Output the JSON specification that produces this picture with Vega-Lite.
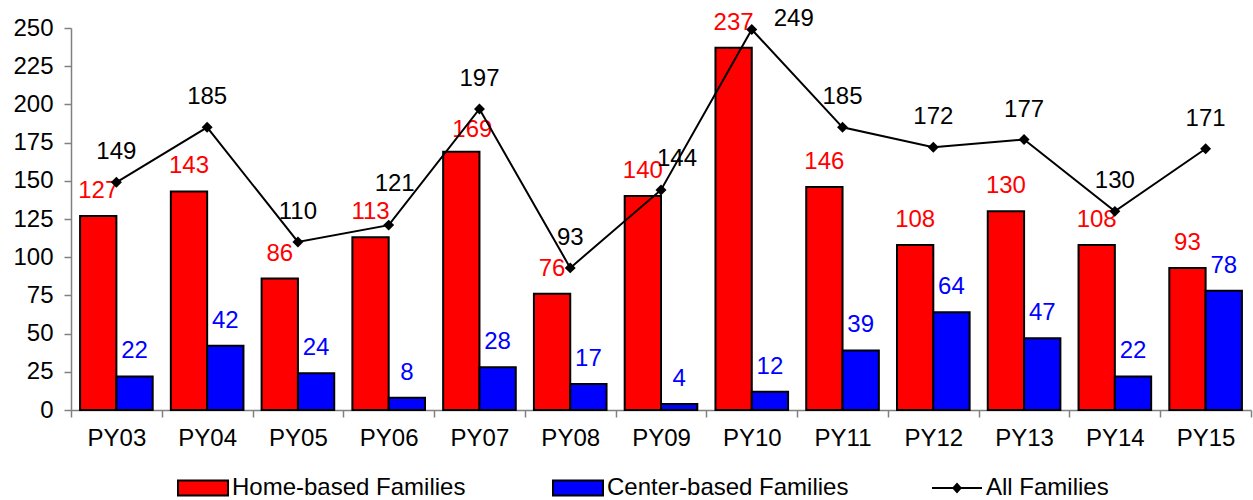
{
  "$schema": "https://vega.github.io/schema/vega-lite/v6.json",
  "autosize": {"type": "none"},
  "width": 1180,
  "height": 382,
  "padding": {"left": 71, "top": 28, "right": 2, "bottom": 90},
  "background": "white",
  "config": {
    "view": {"stroke": null},
    "font": "Liberation Sans",
    "axis": {"labelFont": "Liberation Sans", "labelFontSize": 24, "labelColor": "black", "domainColor": "#808080", "tickColor": "#808080", "domainWidth": 1.5, "tickWidth": 1.5, "grid": false, "title": null, "labelOverlap": false}
  },
  "data": {"values": [
    {"year": "PY03", "home": 127, "center": 22, "all": 149},
    {"year": "PY04", "home": 143, "center": 42, "all": 185},
    {"year": "PY05", "home": 86, "center": 24, "all": 110},
    {"year": "PY06", "home": 113, "center": 8, "all": 121},
    {"year": "PY07", "home": 169, "center": 28, "all": 197},
    {"year": "PY08", "home": 76, "center": 17, "all": 93},
    {"year": "PY09", "home": 140, "center": 4, "all": 144},
    {"year": "PY10", "home": 237, "center": 12, "all": 249},
    {"year": "PY11", "home": 146, "center": 39, "all": 185},
    {"year": "PY12", "home": 108, "center": 64, "all": 172},
    {"year": "PY13", "home": 130, "center": 47, "all": 177},
    {"year": "PY14", "home": 108, "center": 22, "all": 130},
    {"year": "PY15", "home": 93, "center": 78, "all": 171}
  ]},
  "encoding": {
    "x": {"field": "year", "type": "nominal", "sort": null,
      "scale": {"paddingInner": 0, "paddingOuter": 0},
      "axis": {"labelAngle": 0, "tickBand": "extent", "tickSize": 7, "labelPadding": 9}}
  },
  "layer": [
    {
      "transform": [
        {"fold": ["home", "center"], "as": ["key", "value"]},
        {"lookup": "key", "from": {"data": {"values": [{"key": "home", "series": "Home-based Families"}, {"key": "center", "series": "Center-based Families"}]}, "key": "key", "fields": ["series"]}}
      ],
      "encoding": {
        "y": {"field": "value", "type": "quantitative", "scale": {"domain": [0, 250], "nice": false},
          "axis": {"values": [0, 25, 50, 75, 100, 125, 150, 175, 200, 225, 250], "tickSize": 7, "labelPadding": 11}},
        "xOffset": {"field": "series", "type": "nominal", "scale": {"domain": ["Home-based Families", "Center-based Families"], "paddingInner": 0, "paddingOuter": 0.25}}
      },
      "layer": [
        {
          "mark": {"type": "bar", "stroke": "black", "strokeWidth": 2},
          "encoding": {
            "fill": {"field": "series", "type": "nominal",
              "scale": {"domain": ["Home-based Families", "Center-based Families", "All Families"], "range": ["#ff0000", "#0000ff", "#000000"]},
              "legend": {
                "title": null, "orient": "none", "direction": "horizontal", "legendX": 125, "legendY": 448,
                "symbolSize": 2500, "labelFontSize": 24, "labelFont": "Liberation Sans", "labelColor": "black",
                "labelOffset": 12, "columnPadding": 83, "padding": 0, "labelLimit": 0,
                "symbolType": "M-1.2,-0.3H0.8V0.3H-1.2Z",
                "symbolStrokeColor": "black",
                "symbolStrokeWidth": 2,
                "encode": {"symbols": {"update": {
                  "shape": {"signal": "datum.value === 'All Families' ? 'M-1.2,-0.04H0.8V0.04H-1.2Z M-0.2,-0.22L0,0L-0.2,0.22L-0.4,0Z' : 'M-1.2,-0.3H0.8V0.3H-1.2Z'"},
                  "strokeWidth": {"signal": "datum.value === 'All Families' ? 0 : 2"},
                  "opacity": {"value": 1}
                }}}
              }}
          }
        },
        {
          "transform": [{"filter": "datum.key === 'home' && datum.year !== 'PY07'"}],
          "mark": {"type": "text", "fontSize": 24, "color": "#ff0000", "dy": -25, "baseline": "middle"},
          "encoding": {"text": {"field": "value", "type": "quantitative"}}
        },
        {
          "transform": [{"filter": "datum.key === 'home' && datum.year === 'PY07'"}],
          "mark": {"type": "text", "fontSize": 24, "color": "#ff0000", "dy": -22, "dx": 11, "baseline": "middle"},
          "encoding": {"text": {"field": "value", "type": "quantitative"}}
        },
        {
          "transform": [{"filter": "datum.key === 'center'"}],
          "mark": {"type": "text", "fontSize": 24, "color": "#0000ff", "dy": -25, "baseline": "middle"},
          "encoding": {"text": {"field": "value", "type": "quantitative"}}
        }
      ]
    },
    {
      "encoding": {
        "y": {"field": "all", "type": "quantitative",
          "axis": {"values": [0, 25, 50, 75, 100, 125, 150, 175, 200, 225, 250], "tickSize": 7, "labelPadding": 11}}
      },
      "layer": [
        {"mark": {"type": "line", "color": "black", "strokeWidth": 2}},
        {"mark": {"type": "point", "shape": "diamond", "filled": true, "size": 120, "opacity": 1, "color": "black"}},
        {
          "transform": [{"filter": "datum.year !== 'PY06' && datum.year !== 'PY09' && datum.year !== 'PY10'"}],
          "mark": {"type": "text", "fontSize": 24, "color": "black", "dy": -30, "baseline": "middle"},
          "encoding": {"text": {"field": "all", "type": "quantitative"}}
        },
        {
          "transform": [{"filter": "datum.year === 'PY06'"}],
          "mark": {"type": "text", "fontSize": 24, "color": "black", "dy": -41, "dx": 6, "baseline": "middle"},
          "encoding": {"text": {"field": "all", "type": "quantitative"}}
        },
        {
          "transform": [{"filter": "datum.year === 'PY09'"}],
          "mark": {"type": "text", "fontSize": 24, "color": "black", "dy": -31, "dx": 16, "baseline": "middle"},
          "encoding": {"text": {"field": "all", "type": "quantitative"}}
        },
        {
          "transform": [{"filter": "datum.year === 'PY10'"}],
          "mark": {"type": "text", "fontSize": 24, "color": "black", "dy": -11, "dx": 42, "baseline": "middle"},
          "encoding": {"text": {"field": "all", "type": "quantitative"}}
        }
      ]
    }
  ]
}
